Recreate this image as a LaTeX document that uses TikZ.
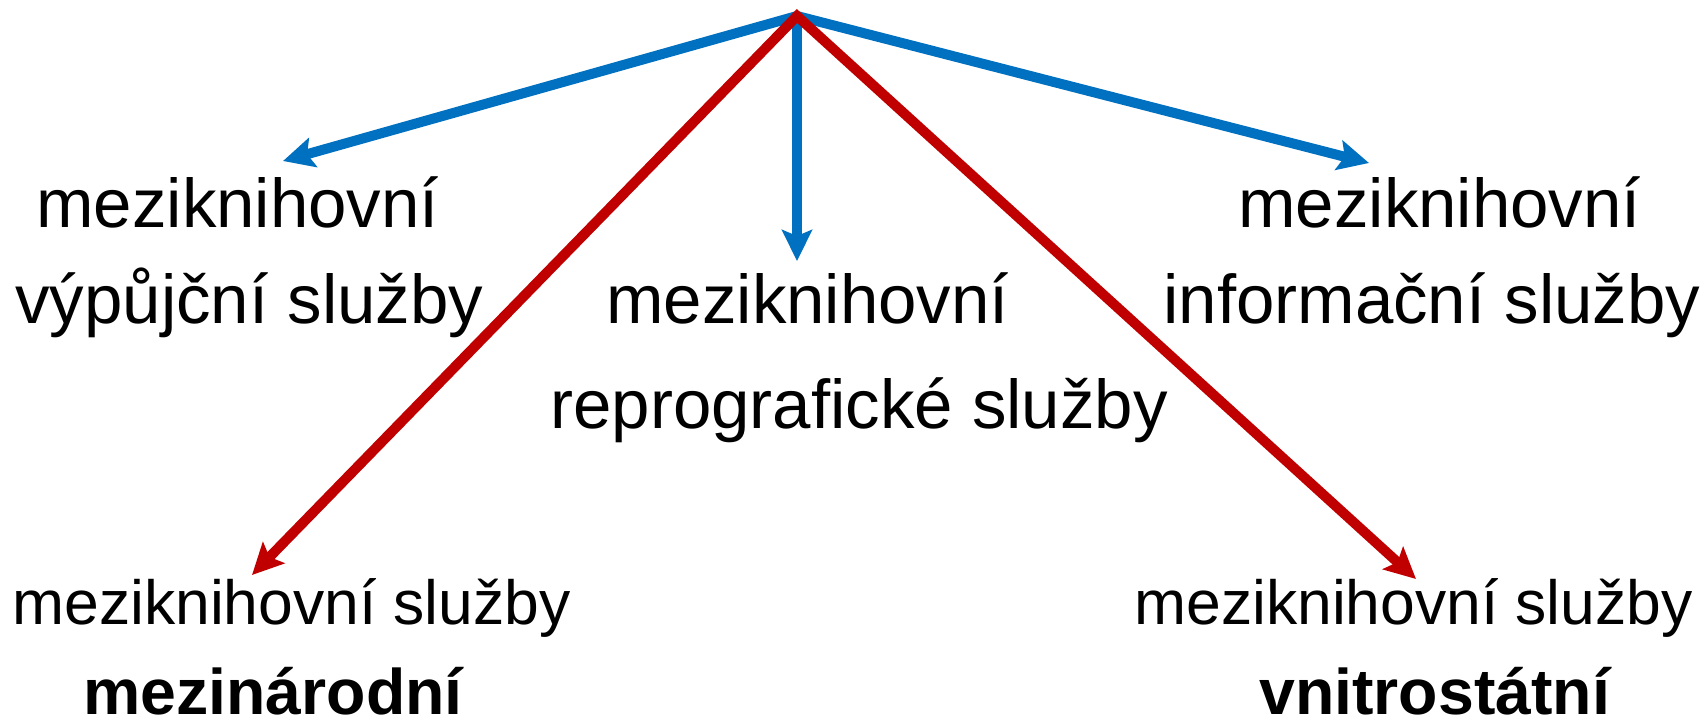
\documentclass[tikz,border=0pt]{standalone}
\usepackage{fontspec}
\setmainfont{Liberation Sans}
\usetikzlibrary{arrows.meta}
\definecolor{cblue}{RGB}{0,112,192}
\definecolor{cred}{RGB}{192,0,0}
\begin{document}
\begin{tikzpicture}[x=0.5pt,y=-0.5pt,
  >={Stealth[length=15.5pt,width=15pt,inset=3pt]},
  lbl/.style={anchor=base west, inner sep=0pt, font=\fontsize{34.5pt}{40pt}\selectfont},
  lblsm/.style={anchor=base west, inner sep=0pt, font=\fontsize{31.2pt}{36pt}\selectfont},
  lblbf/.style={anchor=base west, inner sep=0pt, text depth=0pt, font=\fontsize{32.2pt}{36pt}\selectfont\bfseries},
  conn/.style={line width=5pt, line join=miter},
]
\useasboundingbox (0,0) rectangle (1704,724);
% labels
\node[lbl] (l1a) at (36,227) {meziknihovní};
\node[lbl] (l1b) at (15,323) {výpůjční služby};
\node[lbl] (m1a) at (606,323) {meziknihovní};
\node[lbl] (m1b) at (550,428) {reprografické služby};
\node[lbl] (r1a) at (1238,227) {meziknihovní};
\node[lbl] (r1b) at (1163,323) {informační služby};
\node[lblsm] (bl1) at (12,624) {meziknihovní služby};
\node[lblbf] (bl2) at (83,714) {mezinárodní};
\node[lblsm] (br1) at (1134,624) {meziknihovní služby};
\node[lblbf] (br2) at (1259,714) {vnitrostátní};
% connector points
\coordinate (apex) at (797,16);
\coordinate (tbl) at (283,161);
\coordinate (tbm) at (797,261);
\coordinate (tbr) at (1369,163);
\coordinate (trl) at (252,575);
\coordinate (trr) at (1416,579);
% blue connectors
\draw[conn, cblue, <->] (tbl) -- (apex) -- (tbr);
\draw[conn, cblue, ->] (apex) -- (tbm);
% red connectors
\draw[conn, cred, <->] (trl) -- (apex) -- (trr);
\end{tikzpicture}
\end{document}
